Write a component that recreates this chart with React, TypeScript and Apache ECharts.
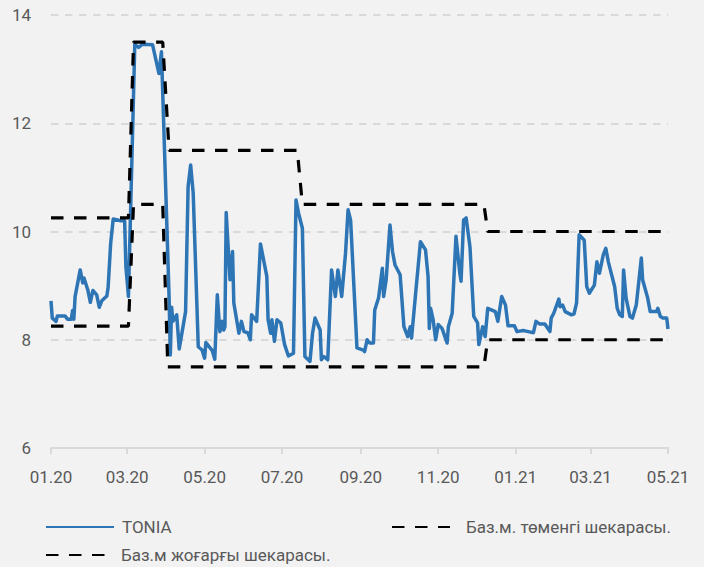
import React, { useEffect, useRef } from "react";
import * as echarts from "echarts";

const tickDates = ["2020-01-01", "2020-03-01", "2020-05-01", "2020-07-01", "2020-09-01", "2020-11-01", "2021-01-01", "2021-03-01", "2021-05-01"];
const yTicks = { min: 6, max: 14, step: 2 };

const seriesNames = ["TONIA", "Баз.м. төменгі шекарасы.", "Баз.м жоғарғы шекарасы."];

const tonia: [string, number][] = [
  ["2020-01-01", 8.72], ["2020-01-02", 8.40], ["2020-01-05", 8.34], ["2020-01-06", 8.44], ["2020-01-12", 8.44],
  ["2020-01-14", 8.38], ["2020-01-17", 8.38], ["2020-01-18", 8.54], ["2020-01-19", 8.38], ["2020-01-20", 8.80],
  ["2020-01-24", 9.29], ["2020-01-26", 9.05], ["2020-01-27", 9.14], ["2020-01-30", 8.92], ["2020-02-01", 8.69],
  ["2020-02-03", 8.91], ["2020-02-06", 8.83], ["2020-02-08", 8.60], ["2020-02-10", 8.72], ["2020-02-14", 8.81],
  ["2020-02-15", 8.97], ["2020-02-17", 9.78], ["2020-02-19", 10.23], ["2020-02-25", 10.20], ["2020-02-28", 10.20],
  ["2020-02-29", 9.35], ["2020-03-02", 8.80], ["2020-03-07", 13.46], ["2020-03-10", 13.40], ["2020-03-13", 13.46],
  ["2020-03-21", 13.45], ["2020-03-26", 12.92], ["2020-03-28", 13.32], ["2020-04-03", 8.80], ["2020-04-04", 7.72],
  ["2020-04-05", 8.60], ["2020-04-06", 8.34], ["2020-04-09", 8.46], ["2020-04-11", 7.83], ["2020-04-16", 8.52],
  ["2020-04-18", 10.83], ["2020-04-20", 11.23], ["2020-04-22", 10.71], ["2020-04-26", 7.87], ["2020-04-29", 7.81],
  ["2020-05-01", 7.66], ["2020-05-02", 7.95], ["2020-05-07", 7.80], ["2020-05-09", 7.64], ["2020-05-11", 8.83],
  ["2020-05-13", 8.15], ["2020-05-15", 8.34], ["2020-05-16", 8.18], ["2020-05-17", 8.24], ["2020-05-18", 10.35],
  ["2020-05-21", 9.11], ["2020-05-23", 9.63], ["2020-05-24", 8.68], ["2020-05-28", 8.12], ["2020-05-30", 8.34],
  ["2020-06-01", 8.15], ["2020-06-04", 8.13], ["2020-06-06", 8.00], ["2020-06-07", 8.46], ["2020-06-11", 8.34],
  ["2020-06-14", 9.77], ["2020-06-19", 9.17], ["2020-06-20", 8.37], ["2020-06-22", 8.12], ["2020-06-23", 8.37],
  ["2020-06-25", 7.97], ["2020-06-27", 8.37], ["2020-06-30", 8.31], ["2020-07-03", 7.91], ["2020-07-06", 7.70],
  ["2020-07-10", 7.75], ["2020-07-12", 10.58], ["2020-07-14", 10.34], ["2020-07-17", 10.06], ["2020-07-19", 7.69],
  ["2020-07-23", 7.60], ["2020-07-25", 8.12], ["2020-07-27", 8.40], ["2020-07-31", 8.18], ["2020-08-01", 7.63],
  ["2020-08-03", 7.69], ["2020-08-06", 7.63], ["2020-08-09", 9.29], ["2020-08-12", 8.80], ["2020-08-14", 9.29],
  ["2020-08-17", 8.80], ["2020-08-20", 9.60], ["2020-08-22", 10.40], ["2020-08-24", 10.21], ["2020-08-29", 7.85],
  ["2020-09-03", 7.81], ["2020-09-04", 7.78], ["2020-09-06", 8.00], ["2020-09-08", 7.94], ["2020-09-11", 7.94],
  ["2020-09-12", 8.55], ["2020-09-15", 8.77], ["2020-09-18", 9.32], ["2020-09-19", 8.80], ["2020-09-21", 9.11],
  ["2020-09-24", 10.12], ["2020-09-26", 9.63], ["2020-09-28", 9.38], ["2020-10-02", 9.20], ["2020-10-05", 8.24],
  ["2020-10-08", 8.06], ["2020-10-10", 8.24], ["2020-10-11", 8.03], ["2020-10-14", 8.80], ["2020-10-18", 9.81],
  ["2020-10-22", 9.66], ["2020-10-24", 9.17], ["2020-10-25", 8.21], ["2020-10-26", 8.58], ["2020-10-28", 8.37],
  ["2020-10-30", 8.00], ["2020-11-01", 8.28], ["2020-11-04", 8.21], ["2020-11-08", 7.94], ["2020-11-09", 8.24],
  ["2020-11-12", 8.49], ["2020-11-15", 9.91], ["2020-11-18", 9.23], ["2020-11-19", 9.08], ["2020-11-21", 10.21],
  ["2020-11-23", 10.25], ["2020-11-26", 9.72], ["2020-11-29", 8.43], ["2020-12-02", 8.31], ["2020-12-03", 7.91],
  ["2020-12-06", 8.24], ["2020-12-08", 8.06], ["2020-12-10", 8.58], ["2020-12-16", 8.52], ["2020-12-18", 8.34],
  ["2020-12-21", 8.80], ["2020-12-24", 8.64], ["2020-12-26", 8.26], ["2020-12-31", 8.26], ["2021-01-02", 8.15],
  ["2021-01-07", 8.17], ["2021-01-11", 8.15], ["2021-01-15", 8.13], ["2021-01-17", 8.34], ["2021-01-20", 8.29],
  ["2021-01-24", 8.29], ["2021-01-28", 8.15], ["2021-01-29", 8.40], ["2021-01-31", 8.49], ["2021-02-04", 8.75],
  ["2021-02-05", 8.61], ["2021-02-07", 8.64], ["2021-02-09", 8.52], ["2021-02-14", 8.46], ["2021-02-16", 8.48],
  ["2021-02-18", 8.68], ["2021-02-20", 9.94], ["2021-02-24", 9.84], ["2021-02-26", 8.98], ["2021-02-28", 8.86],
  ["2021-03-04", 9.01], ["2021-03-06", 9.44], ["2021-03-08", 9.23], ["2021-03-11", 9.57], ["2021-03-13", 9.69],
  ["2021-03-15", 9.44], ["2021-03-20", 8.98], ["2021-03-22", 8.58], ["2021-03-24", 8.46], ["2021-03-26", 8.43],
  ["2021-03-27", 9.29], ["2021-03-29", 8.77], ["2021-04-01", 8.43], ["2021-04-03", 8.40], ["2021-04-06", 8.64],
  ["2021-04-10", 9.51], ["2021-04-11", 9.11], ["2021-04-15", 8.77], ["2021-04-17", 8.52], ["2021-04-22", 8.52],
  ["2021-04-23", 8.58], ["2021-04-25", 8.43], ["2021-04-27", 8.40], ["2021-04-30", 8.40], ["2021-05-01", 8.20],
];

const lowerBound: [string, number][] = [
  ["2020-01-01", 8.25], ["2020-03-02", 8.25], ["2020-03-06", 10.5], ["2020-03-29", 10.5], ["2020-04-02", 7.5],
  ["2020-12-07", 7.5], ["2020-12-10", 8.0], ["2021-05-01", 8.0],
];

const upperBound: [string, number][] = [
  ["2020-01-01", 10.25], ["2020-03-02", 10.25], ["2020-03-06", 13.5], ["2020-03-29", 13.5], ["2020-04-03", 11.5],
  ["2020-07-13", 11.5], ["2020-07-17", 10.5], ["2020-12-07", 10.5], ["2020-12-10", 10.0], ["2021-05-01", 10.0],
];

const ts = (s: string) => {
  const [y, m, d] = s.split("-").map(Number);
  return new Date(y, m - 1, d).getTime();
};
const toSeries = (arr: [string, number][]) => arr.map(([d, v]) => [ts(d), v]);

const FONT = "Roboto, 'Liberation Sans', sans-serif";
const TEXT_COLOR = "#595959";
const GRID_COLOR = "#d9d9d9";
const BLUE = "#2e75b6";
const DASH = [12.5, 10.5];

export default function App() {
  const ref = useRef<HTMLDivElement>(null);
  useEffect(() => {
    document.body.style.margin = "0";
    const chart = echarts.init(ref.current!, null, { renderer: "svg" });
    const tickTs = tickDates.map(ts);
    const legendBase = {
      orient: "horizontal",
      padding: 0,
      itemHeight: 14,
      itemStyle: { opacity: 0, borderWidth: 0 },
      textStyle: { color: TEXT_COLOR, fontSize: 17, fontFamily: FONT, lineHeight: 18 },
      selectedMode: false,
    };
    chart.setOption({
      animation: false,
      backgroundColor: "#f2f2f2",
      textStyle: { fontFamily: FONT },
      grid: { left: 51, right: 36, top: 15, bottom: 119 },
      xAxis: {
        type: "value",
        min: tickTs[0],
        max: tickTs[tickTs.length - 1],
        axisLine: { show: true, lineStyle: { color: GRID_COLOR, width: 2 } },
        axisTick: { show: true, customValues: tickTs, length: 6, lineStyle: { color: GRID_COLOR, width: 2 } },
        axisLabel: {
          customValues: tickTs,
          color: TEXT_COLOR,
          fontSize: 17,
          fontFamily: FONT,
          margin: 20,
          formatter: (val: number) => {
            const d = new Date(val);
            const mm = String(d.getMonth() + 1).padStart(2, "0");
            const yy = String(d.getFullYear() % 100).padStart(2, "0");
            return `${mm}.${yy}`;
          },
        },
        splitLine: { show: false },
      },
      yAxis: {
        type: "value",
        min: yTicks.min,
        max: yTicks.max,
        interval: yTicks.step,
        axisLine: { show: false },
        axisTick: { show: false },
        axisLabel: { color: TEXT_COLOR, fontSize: 17, fontFamily: FONT, margin: 20 },
        splitLine: { show: true, lineStyle: { color: GRID_COLOR, width: 2, type: [7.5, 6.5] } },
      },
      legend: [
        { ...legendBase, data: [seriesNames[0]], left: 45, top: 518, itemWidth: 68, textStyle: { ...legendBase.textStyle, padding: [0, 0, 0, 3] } },
        { ...legendBase, data: [seriesNames[1]], left: 391, top: 518, itemWidth: 58, textStyle: { ...legendBase.textStyle, padding: [0, 0, 0, 11] } },
        { ...legendBase, data: [seriesNames[2]], left: 45, top: 546, itemWidth: 59, textStyle: { ...legendBase.textStyle, padding: [0, 0, 0, 11] } },
      ],
      series: [
        {
          name: seriesNames[0],
          type: "line",
          data: toSeries(tonia),
          symbol: "none",
          showSymbol: false,
          lineStyle: { color: BLUE, width: 3.5, join: "round" },
          itemStyle: { color: BLUE },
          z: 2,
        },
        {
          name: seriesNames[1],
          type: "line",
          data: toSeries(lowerBound),
          symbol: "none",
          showSymbol: false,
          lineStyle: { color: "#000", width: 3.2, type: DASH },
          itemStyle: { color: "#000" },
          z: 3,
        },
        {
          name: seriesNames[2],
          type: "line",
          data: toSeries(upperBound),
          symbol: "none",
          showSymbol: false,
          lineStyle: { color: "#000", width: 3.2, type: DASH },
          itemStyle: { color: "#000" },
          z: 3,
        },
      ],
    });
    return () => chart.dispose();
  }, []);
  return (
    <div
      ref={ref}
      style={{ position: "fixed", left: 0, top: 0, width: 704, height: 567, background: "#f2f2f2" }}
    />
  );
}
